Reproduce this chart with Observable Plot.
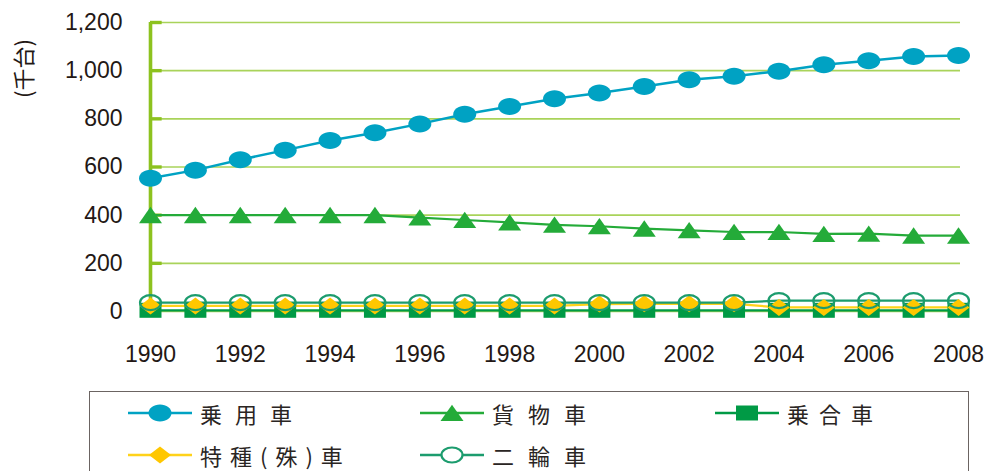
<!DOCTYPE html>
<html><head><meta charset="utf-8">
<script src="https://cdn.jsdelivr.net/npm/d3@7"></script>
<script src="https://cdn.jsdelivr.net/npm/@observablehq/plot@0.6"></script>
<style>
body{margin:0;background:#fff;}
#wrap{position:relative;width:991px;height:471px;overflow:hidden;background:#fff}
#box{position:absolute;left:89px;top:391px;width:878px;height:120px;border:1.6px solid #6b6462;}
.item{position:absolute;display:flex;align-items:center;height:26px}
.item svg{display:block;overflow:visible}
.item span{font-family:"Noto Sans CJK JP";font-size:22px;color:#2a2523;margin-left:8px;white-space:nowrap;line-height:26px}
</style></head>
<body><div id="wrap"><div id="chart"></div><div id="box"></div></div>
<script>
// ---- data ----
const years = [1990,1991,1992,1993,1994,1995,1996,1997,1998,1999,2000,2001,2002,2003,2004,2005,2006,2007,2008];
const seriesNames = ["乗用車","貨物車","乗合車","特種(殊)車","二輪車"];
const joyosha  = [553,587,630,670,710,742,779,819,851,883,907,934,962,977,998,1025,1041,1059,1063];
const kamotsu  = [400,400,400,400,400,400,390,380,370,360,354,344,337,330,330,322,323,315,315];
const noriai   = [5,5,5,5,5,5,5,5,5,5,5,5,5,5,5,5,5,5,5];
const tokushu  = [23,23,23,23,23,23,23,23,23,23,31,32,32,32,17,17,17,17,17];
const nirin    = [37,37,37,37,37,37,37,37,37,37,37,37,37,37,45,45,45,45,45];
const yTicks = [0,200,400,600,800,1000,1200];
const xTicks = [1990,1992,1994,1996,1998,2000,2002,2004,2006,2008];
const yLabel = "(千台)";

// ---- styles ----
const colors = {"乗用車":"#00a2c3","貨物車":"#24ab39","乗合車":"#009a45","特種(殊)車":"#ffc700","二輪車":"#1c9c6e"};
const lineColors = {"乗用車":"#00a2c3","貨物車":"#24ab39","乗合車":"#009a45","特種(殊)車":"#ffd21a","二輪車":"#1c9c6e"};
const gridColor = "#a9d35a", axisColor = "#8dc21f";

function ell(ctx, rx, ry){
  const k = 0.5523;
  ctx.moveTo(rx,0);
  ctx.bezierCurveTo(rx,k*ry,k*rx,ry,0,ry);
  ctx.bezierCurveTo(-k*rx,ry,-rx,k*ry,-rx,0);
  ctx.bezierCurveTo(-rx,-k*ry,-k*rx,-ry,0,-ry);
  ctx.bezierCurveTo(k*rx,-ry,rx,-k*ry,rx,0);
  ctx.closePath();
}
const symbols = {
  "乗用車": {draw(ctx){ ell(ctx, 11.5, 8.5); }},
  "貨物車": {draw(ctx){ ctx.moveTo(0,-8.3); ctx.lineTo(11.5,8); ctx.lineTo(-11.5,8); ctx.closePath(); }},
  "乗合車": {draw(ctx){ ctx.rect(-11,-7.5,22,15); }},
  "特種(殊)車": {draw(ctx){ ctx.moveTo(0,-8.5); ctx.lineTo(11,0); ctx.lineTo(0,8.5); ctx.lineTo(-11,0); ctx.closePath(); }},
  "二輪車": {draw(ctx){ ell(ctx, 10.5, 7.5); }}
};
const hollow = {"二輪車": true};

const valuesBySeries = {"乗用車":joyosha,"貨物車":kamotsu,"乗合車":noriai,"特種(殊)車":tokushu,"二輪車":nirin};
const table = seriesNames.flatMap(s => years.map((yr,i) => ({series:s, year:yr, value:valuesBySeries[s][i]})));
const drawOrder = ["乗合車","特種(殊)車","貨物車","乗用車","二輪車"];

const marks = [
  Plot.ruleY(yTicks, {stroke: gridColor, strokeWidth: 1.6}),
  Plot.ruleX([1990], {y1: 0, y2: 1200, stroke: axisColor, strokeWidth: 3.6}),
  Plot.ruleY(yTicks.filter(d=>d>0), {x1: 1990, x2: 1990.26, stroke: axisColor, strokeWidth: 3.4}),
  ...drawOrder.map(s => Plot.line(table.filter(d=>d.series===s), {x:"year", y:"value", stroke: lineColors[s], strokeWidth: s==="乗用車"?2.5:2.2})),
  ...drawOrder.map(s => Plot.dot(table.filter(d=>d.series===s), {x:"year", y:"value", symbol: symbols[s],
      fill: hollow[s] ? "none" : colors[s], stroke: hollow[s] ? colors[s] : "none", strokeWidth: 2.2})),
  Plot.axisY({ticks: yTicks, tickFormat: d3.format(","), tickSize: 0, tickPadding: 28, fontSize: 23, color: "#231815", label: null}),
  Plot.axisX({ticks: xTicks, tickFormat: d => String(d), tickSize: 0, tickPadding: 34, fontSize: 23, color: "#231815", label: null}),
  Plot.text([yLabel], {frameAnchor: "top-left", dx: -126, dy: 46, rotate: -90, textAnchor: "middle", lineAnchor: "middle",
      fontSize: 22, fontFamily: "Noto Sans CJK JP", fill: "#231815"})
];

const chart = Plot.plot({
  width: 991, height: 385,
  marginLeft: 150, marginRight: 31, marginTop: 22, marginBottom: 74,
  insetRight: 2,
  x: {domain: [1990, 2008]},
  y: {domain: [0, 1200]},
  style: {fontFamily: "'Liberation Sans', Arial, sans-serif", background: "#fff", overflow: "visible"},
  marks
});
document.getElementById("chart").appendChild(chart);

// ---- legend ----
const legendLayout = [
  {s:"乗用車", left:128, cy:413, ls:13},
  {s:"貨物車", left:420, cy:413, ls:14},
  {s:"乗合車", left:715, cy:413, ls:10},
  {s:"特種(殊)車", left:128, cy:455, ls:8},
  {s:"二輪車", left:420, cy:455, ls:14}
];
const wrap = document.getElementById("wrap");
legendLayout.forEach(({s,left,cy,ls}) => {
  const div = document.createElement("div");
  div.className = "item";
  div.style.left = left + "px";
  div.style.top = (cy - 13) + "px";
  const p = d3.path(); symbols[s].draw(p, 0);
  const fill = hollow[s] ? "#fff" : colors[s];
  const stroke = hollow[s] ? colors[s] : "none";
  div.innerHTML = `<svg width="64" height="26"><line x1="0" x2="64" y1="13" y2="13" stroke="${lineColors[s]}" stroke-width="2.4"/>
    <path transform="translate(32,13)" d="${p.toString()}" fill="${fill}" stroke="${stroke}" stroke-width="2.2"/></svg>
    <span style="letter-spacing:${ls}px">${s}</span>`;
  wrap.appendChild(div);
});
</script>
</body></html>
